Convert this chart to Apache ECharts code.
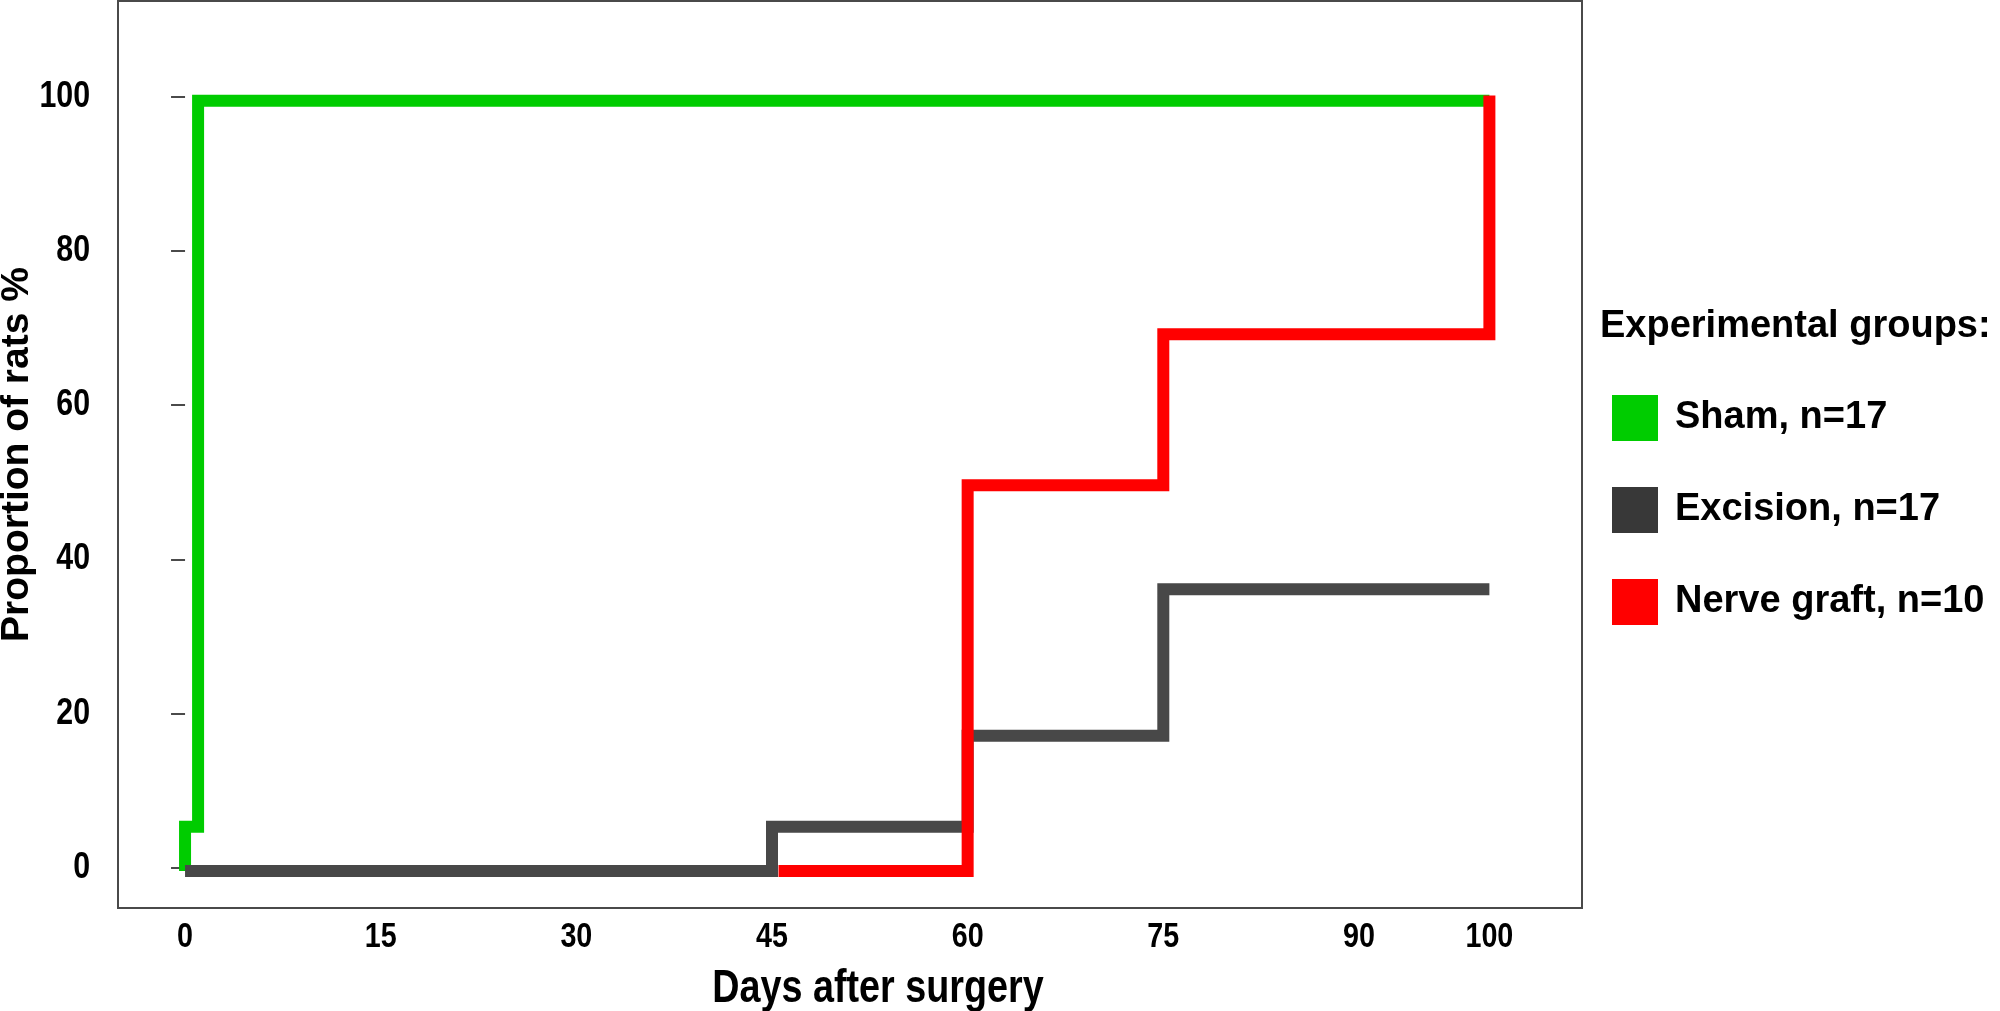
<!DOCTYPE html>
<html>
<head>
<meta charset="utf-8">
<script src="https://cdn.jsdelivr.net/npm/echarts@6/dist/echarts.min.js"></script>
<style>
  html, body { margin: 0; padding: 0; background: #ffffff; }
  #chart { width: 2000px; height: 1011px; }
</style>
</head>
<body>
<div id="chart"></div>
<script>
// ---- data ----
const seriesNames = ['Sham, n=17', 'Excision, n=17', 'Nerve graft, n=10'];
const shamDays   = [0,     0,   1,   1,    100];
const shamVals   = [-0.45, 5.3, 5.3, 99.5, 99.5];
const excDays    = [0,     45,    45,  60,  60,   75,   75,   100];
const excVals    = [-0.45, -0.45, 5.3, 5.3, 17.1, 17.1, 36.1, 36.1];
const graftDays  = [45.5,  60,    60,   75,   75,   100,  100];
const graftVals  = [-0.45, -0.45, 49.6, 49.6, 69.2, 69.2, 100.2];
const xTickLabels = [0, 15, 30, 45, 60, 75, 90, 100];
const yTickLabels = [0, 20, 40, 60, 80, 100];
const xTitle = 'Days after surgery';
const yTitle = 'Proportion of rats %';
const legendTitle = 'Experimental groups:';
const lineColors  = ['#00cc00', '#484848', '#ff0000'];
const legendColors = ['#00cc00', '#383838', '#ff0000'];

function pairs(xs, ys) { return xs.map((x, i) => [x, ys[i]]); }
const seriesData = [pairs(shamDays, shamVals), pairs(excDays, excVals), pairs(graftDays, graftVals)];

const sans = '"Liberation Sans", Arial, Helvetica, sans-serif';
const narrowScale = 0.82; // condensed look of the reference's tick labels

const chart = echarts.init(document.getElementById('chart'), null, { renderer: 'canvas' });
chart.setOption({
  animation: false,
  backgroundColor: '#ffffff',
  title: {
    text: legendTitle,
    left: 1600, top: 308, padding: 0,
    textStyle: { fontFamily: sans, fontSize: 38, fontWeight: 'bold', color: '#000' }
  },
  legend: {
    orient: 'vertical',
    left: 1612, top: 395, padding: 0,
    icon: 'rect',
    itemWidth: 46, itemHeight: 46, itemGap: 46,
    data: seriesNames.map((n, i) => ({ name: n, itemStyle: { color: legendColors[i] } })),
    textStyle: { fontFamily: sans, fontSize: 38, fontWeight: 'bold', color: '#000', padding: [0, 0, 0, 12] }
  },
  grid: {
    left: 118, top: 1, right: 418, bottom: 103,
    containLabel: false, outerBoundsMode: 'none',
    show: true, borderColor: '#4a4a4a', borderWidth: 2, backgroundColor: 'transparent'
  },
  xAxis: {
    type: 'value', min: -5.14, max: 107.1,
    axisLine: { show: false },
    axisTick: { show: false },
    splitLine: { show: false },
    axisLabel: { show: false }
  },
  yAxis: {
    type: 'value', min: -5.26, max: 112.46,
    name: yTitle, nameLocation: 'middle', nameGap: 81, nameRotate: 90,
    nameTextStyle: { fontFamily: sans, fontSize: 39, fontWeight: 'bold', color: '#000' },
    axisLine: { show: false },
    axisTick: { show: true, customValues: yTickLabels, length: 14, lineStyle: { color: '#4a4a4a', width: 2 } },
    splitLine: { show: false },
    axisLabel: { show: false }
  },
  series: seriesNames.map((n, i) => ({
    name: n,
    type: 'line',
    data: seriesData[i],
    z: 2 + i,
    showSymbol: false,
    symbol: 'none',
    color: lineColors[i],
    lineStyle: { width: 12, color: lineColors[i], cap: 'butt', join: 'miter' },
    emphasis: { disabled: true }
  }))
});

// Condensed tick labels and x title, positioned through the chart's own scales
const gridBottom = 1011 - 103;
const graphics = [];
yTickLabels.forEach(v => {
  const p = chart.convertToPixel({ gridIndex: 0 }, [0, v]);
  graphics.push({
    type: 'text', x: 90, y: p[1], scaleX: narrowScale,
    style: { text: String(v), x: 0, y: 0, align: 'right', verticalAlign: 'middle',
             font: 'bold 37px ' + sans, fill: '#000' }
  });
});
xTickLabels.forEach(v => {
  const p = chart.convertToPixel({ gridIndex: 0 }, [v, 0]);
  graphics.push({
    type: 'text', x: p[0], y: gridBottom + 29, scaleX: narrowScale,
    style: { text: String(v), x: 0, y: 0, align: 'center', verticalAlign: 'middle',
             font: 'bold 35px ' + sans, fill: '#000' }
  });
});
graphics.push({
  type: 'text', x: 878, y: gridBottom + 81, scaleX: narrowScale,
  style: { text: xTitle, x: 0, y: 0, align: 'center', verticalAlign: 'middle',
           font: 'bold 46px ' + sans, fill: '#000' }
});
chart.setOption({ graphic: graphics });
</script>
</body>
</html>
